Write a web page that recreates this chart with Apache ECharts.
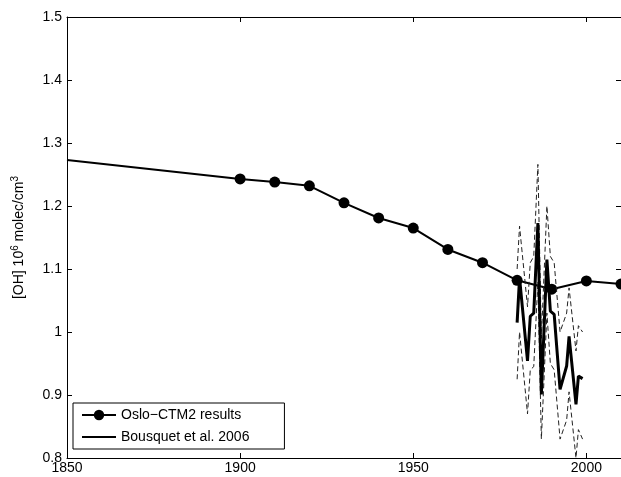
<!DOCTYPE html>
<html>
<head>
<meta charset="utf-8">
<style>html,body{margin:0;padding:0;background:#fff;}#c{width:621px;height:477px;}</style>
<script src="https://cdn.jsdelivr.net/npm/echarts@6/dist/echarts.min.js"></script>
</head>
<body>
<div id="c"></div>
<script>
// Oslo-CTM2 model results
var osloYears = [1850, 1900, 1910, 1920, 1930, 1940, 1950, 1960, 1970, 1980, 1990, 2000, 2010];
var osloValues = [1.273, 1.243, 1.238, 1.232, 1.205, 1.181, 1.165, 1.131, 1.110, 1.082, 1.068, 1.081, 1.076];
// Bousquet et al. 2006 (central estimate and uncertainty envelope)
var bqYears = [1980.0, 1980.7, 1983.0, 1983.8, 1984.8, 1986.0, 1987.0, 1988.6, 1989.6, 1990.7, 1992.4, 1994.3, 1995.0, 1997.0, 1997.7, 1998.9];
var bqValues = [1.015, 1.086, 0.954, 1.025, 1.030, 1.173, 0.901, 1.115, 1.033, 1.028, 0.909, 0.946, 0.993, 0.885, 0.930, 0.926];
var bqUpper = [1.10, 1.168, 1.04, 1.11, 1.12, 1.266, 0.99, 1.20, 1.12, 1.11, 1.00, 1.03, 1.07, 0.97, 1.01, 1.00];
var bqLower = [0.925, 1.00, 0.87, 0.94, 0.945, 1.08, 0.83, 1.03, 0.95, 0.94, 0.83, 0.86, 0.905, 0.80, 0.845, 0.83];
var seriesNames = ['Oslo\u2212CTM2 results', 'Bousquet et al. 2006'];
var yTitle = '[OH] 10{sup|6} molec/cm{sup|3}';

var FONT = "'Liberation Sans', Arial, Helvetica, sans-serif";
function pairs(xs, ys) { return xs.map(function (x, i) { return [x, ys[i]]; }); }
var osloData = osloYears.map(function (x, i) {
  var d = { value: [x, osloValues[i]] };
  if (i === 0) d.symbol = 'none';
  return d;
});

var chart = echarts.init(document.getElementById('c'), null, { renderer: 'canvas' });
var axisCommon = {
  axisLine: { onZero: false, lineStyle: { color: '#000', width: 1 } },
  axisTick: { inside: true, length: 5, lineStyle: { color: '#000' } },
  splitLine: { show: false }
};
chart.setOption({
  animation: false,
  backgroundColor: '#fff',
  grid: { left: 67, right: -2, top: 17, bottom: 19, containLabel: false },
  xAxis: [
    Object.assign({ type: 'value', min: 1850, max: 2010, interval: 50, position: 'bottom',
      axisLabel: { color: '#000', fontSize: 14, fontFamily: FONT, margin: 3, showMaxLabel: false,
        formatter: function (v) { return String(v); } } }, axisCommon),
    Object.assign({ type: 'value', min: 1850, max: 2010, interval: 50, position: 'top',
      axisLabel: { show: false } }, axisCommon)
  ],
  yAxis: [
    Object.assign({ type: 'value', min: 0.8, max: 1.5, interval: 0.1, position: 'left',
      name: yTitle, nameLocation: 'middle', nameRotate: 90, nameGap: 39,
      nameTextStyle: { color: '#000', fontSize: 14, fontFamily: FONT,
        rich: { sup: { fontSize: 10, fontFamily: FONT, color: '#000', verticalAlign: 'top', padding: [0, 0, 8, 0] } } },
      axisLabel: { color: '#000', fontSize: 14, fontFamily: FONT, margin: 5,
        formatter: function (v) { return String(+v.toFixed(1)); } } }, axisCommon),
    Object.assign({ type: 'value', min: 0.8, max: 1.5, interval: 0.1, position: 'right',
      axisLabel: { show: false } }, axisCommon)
  ],
  legend: {
    data: [
      { name: seriesNames[0] },
      { name: seriesNames[1], itemStyle: { color: 'rgba(0,0,0,0)', borderWidth: 0, opacity: 0 } }
    ],
    orient: 'vertical', left: 73, top: 403,
    backgroundColor: '#fff', borderColor: '#000', borderWidth: 1, borderRadius: 0,
    padding: [5, 35, 5, 8], itemGap: 8, itemWidth: 34, itemHeight: 13,
    textStyle: { color: '#000', fontSize: 14, fontFamily: FONT }
  },
  series: [
    { name: seriesNames[0], type: 'line', data: osloData, symbol: 'circle', symbolSize: 11,
      itemStyle: { color: '#000' }, lineStyle: { color: '#000', width: 2 }, z: 2 },
    { name: 'upper', type: 'line', data: pairs(bqYears, bqUpper), symbol: 'none',
      lineStyle: { color: '#222', width: 1, type: [5, 3] }, z: 3 },
    { name: 'lower', type: 'line', data: pairs(bqYears, bqLower), symbol: 'none',
      lineStyle: { color: '#222', width: 1, type: [5, 3] }, z: 3 },
    { name: seriesNames[1], type: 'line', data: pairs(bqYears, bqValues), symbol: 'none',
      itemStyle: { color: '#000' }, lineStyle: { color: '#000', width: 3 }, z: 4 }
  ]
});
</script>
</body>
</html>
